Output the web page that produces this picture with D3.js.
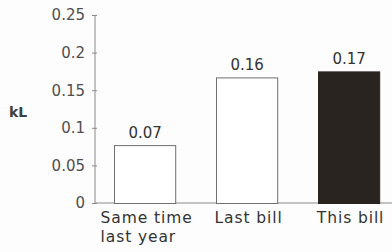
<!DOCTYPE html>
<html>
<head>
<meta charset="utf-8">
<script src="https://cdn.jsdelivr.net/npm/d3@7"></script>
<style>
  body { margin: 0; background: #fdfdfd; }
  #chart { width: 392px; height: 252px; }
  text { font-family: "DejaVu Sans", sans-serif; }
</style>
</head>
<body>
<div id="chart"></div>
<script>
// Chart data
const categories = ["Same time|last year", "Last bill", "This bill"];
const values = [0.077, 0.167, 0.175];
const valueLabels = ["0.07", "0.16", "0.17"];
const yTicks = [0, 0.05, 0.1, 0.15, 0.2, 0.25];
const yTickLabels = ["0", "0.05", "0.1", "0.15", "0.2", "0.25"];
const barFills = ["#ffffff", "#ffffff", "#2a2421"];

const width = 392;
const height = 252;

const svg = d3.select("#chart")
    .append("svg")
    .attr("width", width)
    .attr("height", height);

// Scales
const x = d3.scaleBand()
    .domain(categories)
    .range([93.6, 399.6])
    .paddingInner(0.4)
    .paddingOuter(0.2);

const y = d3.scaleLinear()
    .domain([0, 0.25])
    .range([203, 15]);

// Y axis
const yAxis = d3.axisLeft(y)
    .tickValues(yTicks)
    .tickFormat((d, i) => yTickLabels[i])
    .tickSize(3)
    .tickPadding(7);

const yg = svg.append("g")
    .attr("transform", "translate(95,0)")
    .call(yAxis);

yg.select(".domain").attr("stroke", "#8a8a8a").attr("d", "M0,15V203");
yg.selectAll(".tick line").attr("stroke", "#8a8a8a").attr("x1", 2);
yg.selectAll(".tick text")
    .attr("fill", "#4f4f4f")
    .style("font-family", "DejaVu Sans")
    .style("font-size", "15px");

// Baseline
svg.append("line")
    .attr("x1", 95)
    .attr("x2", width)
    .attr("y1", y(0))
    .attr("y2", y(0))
    .attr("stroke", "#8a8a8a");

// Unit label
svg.append("text")
    .attr("x", 9)
    .attr("y", 117)
    .attr("fill", "#3f3f3f")
    .style("font-size", "14px")
    .style("font-weight", "bold")
    .text("kL");

// Bars
svg.selectAll("rect.bar")
    .data(values)
    .enter()
    .append("rect")
    .attr("class", "bar")
    .attr("x", (d, i) => x(categories[i]) + 0.5)
    .attr("y", d => y(d) + 0.5)
    .attr("width", x.bandwidth())
    .attr("height", d => y(0) - y(d))
    .attr("fill", (d, i) => barFills[i])
    .attr("stroke", (d, i) => i === 2 ? "#2a2421" : "#707070")
    .attr("stroke-width", 1);

// Value labels
svg.selectAll("text.value")
    .data(values)
    .enter()
    .append("text")
    .attr("class", "value")
    .attr("x", (d, i) => x(categories[i]) + x.bandwidth() / 2 + 0.5)
    .attr("y", d => y(d) - 7)
    .attr("text-anchor", "middle")
    .attr("fill", "#333")
    .style("font-size", "15px")
    .text((d, i) => valueLabels[i]);

// Category labels
categories.forEach((c, i) => {
    const lines = c.split("|");
    const cx = x(c) + x.bandwidth() / 2 + 2;
    const t = svg.append("text")
        .attr("x", cx)
        .attr("y", 223)
        .attr("text-anchor", "middle")
        .attr("fill", "#333")
        .style("font-size", "15.5px")
        .style("letter-spacing", "0.9px")
        .text(lines[0]);
    if (lines.length > 1) {
        const left = cx - t.node().getComputedTextLength() / 2;
        svg.append("text")
            .attr("x", left)
            .attr("y", 242)
            .attr("fill", "#333")
            .style("font-size", "15.5px")
            .style("letter-spacing", "0.9px")
            .text(lines[1]);
    }
});
</script>
</body>
</html>
